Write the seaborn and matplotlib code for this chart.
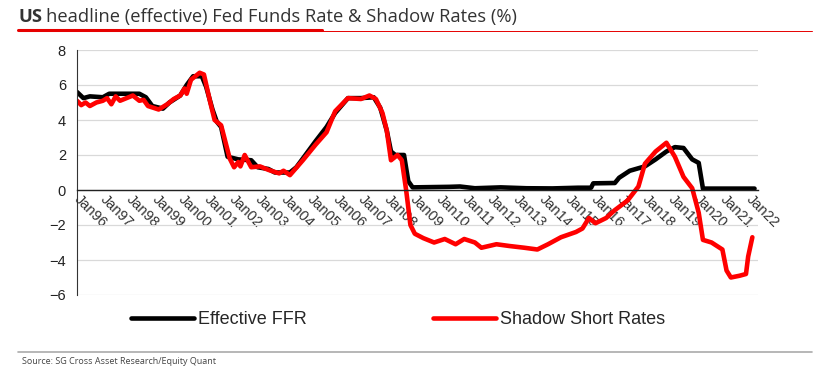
import pandas as pd
import matplotlib
matplotlib.use('Agg')
import matplotlib.pyplot as plt
import matplotlib.dates as mdates
from matplotlib.lines import Line2D
import seaborn as sns

# Effective Fed Funds Rate (%)
ffr_months = ['1996-01', '1996-04', '1996-07', '1997-01', '1997-04', '1998-01', '1998-06',
              '1998-09', '1998-12', '1999-05', '1999-08', '2000-01', '2000-04', '2000-07',
              '2000-11', '2001-01', '2001-04', '2001-06', '2001-08', '2001-11', '2002-04',
              '2002-10', '2003-01', '2003-06', '2003-09', '2004-04', '2004-07', '2004-10',
              '2005-04', '2005-09', '2006-01', '2006-07', '2007-01', '2007-07', '2007-10',
              '2008-01', '2008-03', '2008-05', '2008-09', '2008-11', '2009-01', '2010-06',
              '2010-11', '2011-06', '2012-06', '2013-06', '2014-06', '2015-06', '2015-12',
              '2016-01', '2016-11', '2017-01', '2017-06', '2018-01', '2018-06', '2018-11',
              '2019-03', '2019-07', '2019-11', '2020-02', '2020-04', '2022-04']
ffr_values = [5.6, 5.25, 5.35, 5.3, 5.5, 5.5, 5.5,
              5.3, 4.8, 4.65, 5.0, 5.4, 6.0, 6.5,
              6.5, 5.9, 4.6, 3.9, 3.6, 1.9, 1.75,
              1.7, 1.3, 1.2, 1.0, 1.0, 1.3, 1.8,
              2.8, 3.6, 4.4, 5.25, 5.25, 5.3, 4.7,
              3.4, 2.2, 2.0, 2.0, 0.5, 0.15, 0.18,
              0.2, 0.1, 0.15, 0.1, 0.09, 0.13, 0.13,
              0.38, 0.4, 0.7, 1.1, 1.35, 1.75, 2.2,
              2.45, 2.4, 1.75, 1.55, 0.08, 0.08]

# Shadow short rate (%)
ssr_months = ['1996-01', '1996-03', '1996-05', '1996-07', '1996-10', '1997-01', '1997-03',
              '1997-05', '1997-07', '1997-09', '1998-01', '1998-03', '1998-06', '1998-08',
              '1998-10', '1999-03', '1999-07', '1999-10', '2000-01', '2000-03', '2000-04',
              '2000-06', '2000-10', '2000-12', '2001-03', '2001-05', '2001-08', '2001-12',
              '2002-02', '2002-04', '2002-05', '2002-07', '2002-10', '2003-02', '2003-06',
              '2003-11', '2004-01', '2004-04', '2004-10', '2005-04', '2005-09', '2006-01',
              '2006-07', '2007-01', '2007-05', '2007-08', '2007-11', '2008-01', '2008-03',
              '2008-06', '2008-08', '2008-10', '2008-12', '2009-02', '2009-06', '2009-11',
              '2010-04', '2010-09', '2011-01', '2011-06', '2011-09', '2012-04', '2012-10',
              '2013-05', '2013-11', '2014-04', '2014-10', '2015-05', '2015-08', '2015-11',
              '2016-02', '2016-07', '2016-11', '2017-05', '2017-10', '2018-01', '2018-06',
              '2018-11', '2019-03', '2019-07', '2019-11', '2020-02', '2020-04', '2020-08',
              '2021-01', '2021-03', '2021-05', '2021-09', '2021-12', '2022-01', '2022-03']
ssr_values = [5.1, 4.85, 5.0, 4.8, 5.0, 5.1, 5.25,
              4.9, 5.35, 5.1, 5.3, 5.4, 5.1, 5.15,
              4.8, 4.6, 4.9, 5.2, 5.4, 5.8, 5.5,
              6.3, 6.7, 6.6, 5.0, 4.0, 3.7, 1.8,
              1.3, 1.6, 1.35, 2.0, 1.3, 1.35, 1.15,
              0.95, 1.1, 0.85, 1.7, 2.6, 3.3, 4.5,
              5.25, 5.2, 5.4, 5.2, 4.4, 3.4, 1.7,
              2.0, 1.7, 0.0, -2.0, -2.5, -2.75, -3.0,
              -2.8, -3.1, -2.8, -3.0, -3.3, -3.1, -3.2,
              -3.3, -3.4, -3.1, -2.7, -2.4, -2.2, -1.6,
              -1.9, -1.6, -1.15, -0.6, 0.2, 1.5, 2.2,
              2.7, 1.9, 0.75, 0.1, -1.3, -2.85, -3.0,
              -3.4, -4.6, -5.0, -4.9, -4.8, -3.8, -2.7]

y_ticks = [-6, -4, -2, 0, 2, 4, 6, 8]

sns.set_style('white')
plt.rcParams['font.family'] = ['Liberation Sans', 'DejaVu Sans']

W, H = 830, 380
fig = plt.figure(figsize=(W / 100, H / 100), dpi=100)
ax = fig.add_axes([77 / W, 1 - 295 / H, (758 - 77) / W, (295 - 50) / H])

ffr = pd.DataFrame({'date': pd.to_datetime(ffr_months), 'rate': ffr_values})
ssr = pd.DataFrame({'date': pd.to_datetime(ssr_months), 'rate': ssr_values})

sns.lineplot(data=ffr, x='date', y='rate', ax=ax, color='black', linewidth=3.3,
             estimator=None, label='Effective FFR')
sns.lineplot(data=ssr, x='date', y='rate', ax=ax, color='#ff0000', linewidth=3.3,
             estimator=None, label='Shadow Short Rates')

ax.set_xlim(pd.Timestamp('1996-01-01'), pd.Timestamp('2022-05-20'))
ax.set_ylim(-6, 8)
ax.set_yticks(y_ticks)
ax.set_xlabel('')
ax.set_ylabel('')

# axes styling
ax.grid(axis='y', color='#d9d9d9', linewidth=0.9)
ax.set_axisbelow(True)
for side in ['top', 'right']:
    ax.spines[side].set_visible(False)
ax.spines['left'].set_color('#333333')
ax.spines['bottom'].set_position(('data', 0))
ax.spines['bottom'].set_color('#222222')
ax.spines['bottom'].set_linewidth(1.0)

ax.xaxis.set_major_locator(mdates.YearLocator(1, month=1, day=1))
ax.xaxis.set_major_formatter(mdates.DateFormatter('Jan%y'))
ax.tick_params(axis='y', direction='out', length=4, width=0.8, color='#333333',
               labelsize=10.5, labelcolor='#222222', pad=4)
ax.tick_params(axis='x', direction='out', length=4, width=0.8, color='#333333',
               labelsize=10.5, labelcolor='#333333', pad=1)
for lbl in ax.get_xticklabels():
    lbl.set_rotation(-45)
    lbl.set_ha('left')
    lbl.set_va('center')
    lbl.set_rotation_mode('anchor')

# legend below the plot
handles, labels = ax.get_legend_handles_labels()
ax.get_legend().remove()
fig.legend(handles, labels, loc='center', bbox_to_anchor=(398 / W, 1 - 320 / H), ncol=2,
           frameon=False, fontsize=13, handlelength=3.5, handletextpad=0.22, columnspacing=7.0)

# title with red underline
t1 = fig.text(18 / W, 1 - 17 / H, 'US', fontsize=13.2, weight='bold', family='Open Sans',
              va='center', ha='left', color='#333333')
fig.canvas.draw()
bb = t1.get_window_extent()
fig.text(bb.x1 / W + 4 / W, 1 - 17 / H, 'headline (effective) Fed Funds Rate & Shadow Rates (%)',
         fontsize=13.2, family='Open Sans', va='center', ha='left', color='#333333')
fig.add_artist(Line2D([18 / W, 322 / W], [1 - 30 / H] * 2, transform=fig.transFigure,
                      color='#e60000', linewidth=2.2))
fig.add_artist(Line2D([322 / W, 812 / W], [1 - 30.5 / H] * 2, transform=fig.transFigure,
                      color='#e60000', linewidth=0.7))

# source footer
fig.add_artist(Line2D([18 / W, 812 / W], [1 - 352 / H] * 2, transform=fig.transFigure,
                      color='#aaaaaa', linewidth=1.2))
fig.text(22 / W, 1 - 362 / H, 'Source: SG Cross Asset Research/Equity Quant', fontsize=6.5,
         family='Open Sans', va='center', ha='left', color='#444444')

fig.savefig('out.png', dpi=100)
